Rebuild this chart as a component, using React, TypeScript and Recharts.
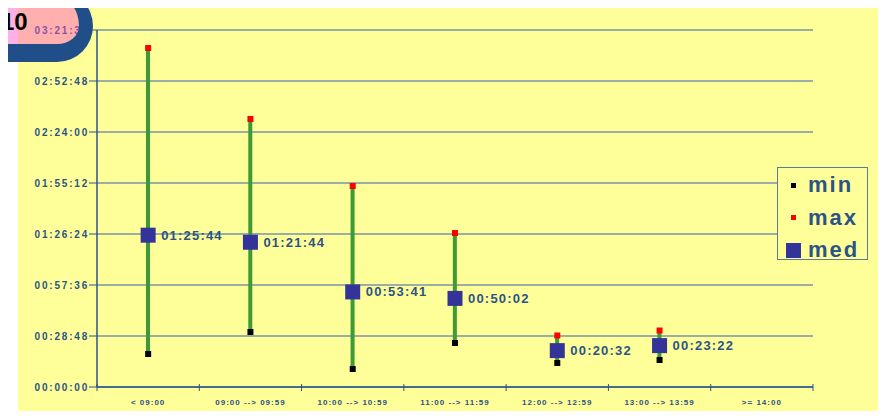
import { ComposedChart, Bar, Line, XAxis, YAxis, CartesianGrid, LabelList } from 'recharts';

// Arrival slots and the min / max / median durations (hh:mm:ss) seen in each.
const slots = [
  '< 09:00',
  '09:00 --> 09:59',
  '10:00 --> 10:59',
  '11:00 --> 11:59',
  '12:00 --> 12:59',
  '13:00 --> 13:59',
  '>= 14:00',
];
const minTimes = ['00:18:38', '00:31:03', '00:10:10', '00:24:51', '00:13:33', '00:15:15', null];
const maxTimes = ['03:11:26', '02:31:20', '01:53:30', '01:26:58', '00:29:05', '00:31:54', null];
const medTimes = ['01:25:44', '01:21:44', '00:53:41', '00:50:02', '00:20:32', '00:23:22', null];
const yTicks = ['00:00:00', '00:28:48', '00:57:36', '01:26:24', '01:55:12', '02:24:00', '02:52:48', '03:21:36'];

const NAVY = '#2b5387';
const GRID = '#7893aa';
const FONT = '"Liberation Sans", Arial, sans-serif';

function toSeconds(t: string | null): number | null {
  if (t == null) return null;
  const [h, m, s] = t.split(':').map(Number);
  return h * 3600 + m * 60 + s;
}

function toClock(sec: number): string {
  const pad = (n: number) => String(n).padStart(2, '0');
  return `${pad(Math.floor(sec / 3600))}:${pad(Math.floor((sec % 3600) / 60))}:${pad(sec % 60)}`;
}

const data = slots.map((slot, i) => {
  const min = toSeconds(minTimes[i]);
  const max = toSeconds(maxTimes[i]);
  return {
    slot,
    min,
    max,
    med: toSeconds(medTimes[i]),
    span: min != null && max != null ? [min, max] : undefined,
  };
});

const yTickValues = yTicks.map((t) => toSeconds(t) as number);

const square = (size: number, fill: string) => (props: any) => {
  const { cx, cy, index } = props;
  if (cx == null || cy == null || !Number.isFinite(cy)) return <g key={`e-${index}`} />;
  return <rect key={`s-${index}`} x={cx - size / 2} y={cy - size / 2} width={size} height={size} fill={fill} />;
};

function SlotTick(props: any) {
  const { x, y, payload } = props;
  const half = payload.offset ?? 0;
  const last = payload.value === slots[slots.length - 1];
  return (
    <g>
      <line x1={x - half} x2={x - half} y1={y - 3} y2={y + 4} stroke={NAVY} strokeWidth={1} />
      {last && <line x1={x + half} x2={x + half} y1={y - 3} y2={y + 4} stroke={NAVY} strokeWidth={1} />}
      <text
        x={x}
        y={y + 18}
        textAnchor="middle"
        fill={NAVY}
        style={{ fontSize: 8, fontWeight: 'bold', letterSpacing: 1, fontFamily: FONT }}
      >
        {payload.value}
      </text>
    </g>
  );
}

function MedLabel(props: any) {
  const { x, y, value } = props;
  if (value == null || x == null || y == null) return null;
  return (
    <text
      x={x + 13}
      y={y}
      dominantBaseline="central"
      fill={NAVY}
      style={{ fontSize: 13, fontWeight: 'bold', letterSpacing: 1.2, fontFamily: FONT }}
    >
      {toClock(value)}
    </text>
  );
}

const legendRows = [
  { name: 'min', size: 5, color: '#000000' },
  { name: 'max', size: 5, color: '#ff0000' },
  { name: 'med', size: 15, color: '#333399' },
];

export default function App() {
  return (
    <div style={{ position: 'relative', margin: -8, width: 886, height: 419, background: '#ffffff', overflow: 'hidden' }}>
      <div style={{ position: 'absolute', left: 18, top: 8, right: 0, bottom: 0, background: '#ffff99' }} />
      <div style={{ position: 'absolute', left: 0, top: 0 }}>
        <ComposedChart width={886} height={419} data={data} margin={{ top: 30, right: 73, left: 0, bottom: 0 }}>
          <CartesianGrid vertical={false} stroke={GRID} strokeWidth={1.5} />
          <XAxis
            dataKey="slot"
            height={32}
            interval={0}
            tickSize={0}
            tickMargin={0}
            tickLine={false}
            axisLine={{ stroke: NAVY, strokeWidth: 1.5 }}
            tick={<SlotTick />}
          />
          <YAxis
            type="number"
            width={97}
            domain={[0, yTickValues[yTickValues.length - 1]]}
            ticks={yTickValues}
            interval={0}
            tickFormatter={toClock}
            tickSize={8}
            tickMargin={0}
            axisLine={{ stroke: NAVY, strokeWidth: 1.5 }}
            tickLine={{ stroke: NAVY }}
            tick={{ fill: NAVY, fontSize: 10, fontWeight: 'bold', letterSpacing: 1.8, fontFamily: FONT }}
          />
          <YAxis
            yAxisId="edge"
            orientation="right"
            width={0}
            domain={[0, 1]}
            tick={false}
            tickLine={false}
            axisLine={{ stroke: GRID, strokeWidth: 1.5 }}
          />
          <Bar dataKey="span" barSize={4} fill="#3d9b35" isAnimationActive={false} />
          <Line
            dataKey="med"
            stroke="none"
            dot={square(15, '#333399')}
            activeDot={false}
            isAnimationActive={false}
          >
            <LabelList dataKey="med" content={<MedLabel />} />
          </Line>
          <Line dataKey="min" stroke="none" dot={square(6, '#000000')} activeDot={false} isAnimationActive={false} />
          <Line dataKey="max" stroke="none" dot={square(6, '#ff0000')} activeDot={false} isAnimationActive={false} />
        </ComposedChart>
      </div>

      {/* legend box on the right edge of the plot */}
      <div
        style={{
          position: 'absolute',
          left: 777,
          top: 167,
          width: 91,
          height: 93,
          boxSizing: 'border-box',
          border: `1.5px solid #5b7b97`,
          background: '#ffff99',
          paddingTop: 1,
        }}
      >
        {legendRows.map((r) => (
          <div key={r.name} style={{ display: 'flex', alignItems: 'center', height: 32.5 }}>
            <div style={{ width: 30, display: 'flex', justifyContent: 'center' }}>
              <div style={{ width: r.size, height: r.size, background: r.color }} />
            </div>
            <span
              style={{
                fontFamily: FONT,
                fontWeight: 'bold',
                fontSize: 22,
                letterSpacing: 2,
                color: NAVY,
                lineHeight: 1,
              }}
            >
              {r.name}
            </span>
          </div>
        ))}
      </div>

      {/* page-number badge in the top left corner */}
      <div
        style={{
          position: 'absolute',
          left: -30,
          top: -10,
          width: 123,
          height: 72,
          boxSizing: 'border-box',
          borderStyle: 'solid',
          borderColor: '#1f4e89',
          borderWidth: '7px 14px 18px 0',
          borderRadius: '0 36px 36px 0',
          background: 'rgba(255, 80, 200, 0.45)',
        }}
      >
        <span
          style={{
            position: 'absolute',
            left: 31,
            top: 13,
            fontFamily: FONT,
            fontWeight: 'bold',
            fontSize: 24,
            color: '#000000',
            lineHeight: 1,
          }}
        >
          10
        </span>
      </div>
    </div>
  );
}
